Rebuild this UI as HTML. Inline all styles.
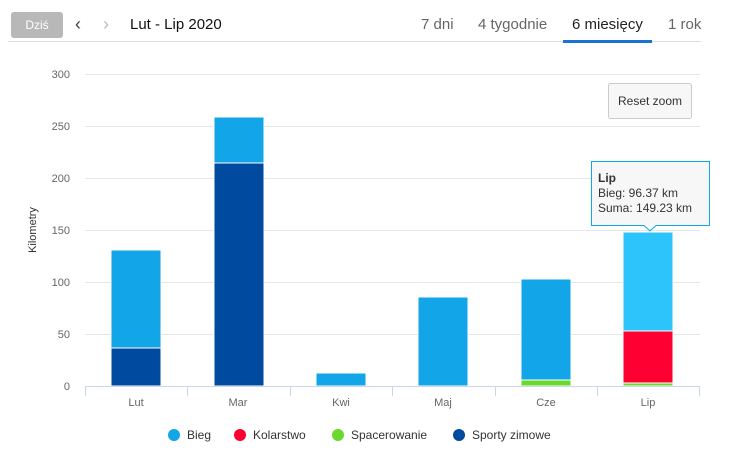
<!DOCTYPE html>
<html><head><meta charset="utf-8"><style>
body{margin:0;width:742px;height:467px;background:#fff;font-family:"Liberation Sans",sans-serif;overflow:hidden;position:relative}
.t{position:absolute;white-space:nowrap}
</style></head><body>
<div class="t" style="left:11px;top:12px;width:52px;height:26px;background:#b8b8b8;border-radius:3px;color:#fff;font-size:12px;line-height:26px;text-align:center">Dziś</div>
<div class="t" style="left:75px;top:14px;font-size:18px;color:#444">‹</div>
<div class="t" style="left:103px;top:14px;font-size:18px;color:#bbb">›</div>
<div class="t" style="left:130px;top:16px;font-size:15px;color:#111">Lut - Lip 2020</div>
<div class="t" style="left:421px;top:16px;font-size:15px;color:#666">7 dni</div>
<div class="t" style="left:478px;top:16px;font-size:15px;color:#666">4 tygodnie</div>
<div class="t" style="left:572px;top:16px;font-size:15px;color:#222">6 miesięcy</div>
<div class="t" style="left:668px;top:16px;font-size:15px;color:#666">1 rok</div>
<div class="t" style="left:8px;top:41px;width:693px;height:1px;background:#ddd"></div>
<div class="t" style="left:563px;top:40px;width:89px;height:3px;background:#1a73d0"></div>
<svg width="742" height="467" style="position:absolute;left:0;top:0">
<g stroke="#e6e6e6">
<line x1="85" x2="700" y1="74.5" y2="74.5"/><line x1="85" x2="700" y1="126.5" y2="126.5"/><line x1="85" x2="700" y1="178.5" y2="178.5"/><line x1="85" x2="700" y1="230.5" y2="230.5"/><line x1="85" x2="700" y1="282.5" y2="282.5"/><line x1="85" x2="700" y1="334.5" y2="334.5"/>
</g>
<g font-size="11" fill="#666" text-anchor="end">
<text x="70" y="78">300</text><text x="70" y="130">250</text><text x="70" y="182">200</text><text x="70" y="234">150</text><text x="70" y="286">100</text><text x="70" y="338">50</text><text x="70" y="390">0</text>
</g>
<text transform="translate(36,230) rotate(-90)" font-size="11" fill="#333" text-anchor="middle">Kilometry</text>
<g stroke="#fff" stroke-width="1">
<rect x="111" y="250" width="50" height="98" fill="#12a6e8"/>
<rect x="111" y="348" width="50" height="38" fill="#004a9f"/>
<rect x="214" y="117" width="50" height="46" fill="#12a6e8"/>
<rect x="214" y="163" width="50" height="223" fill="#004a9f"/>
<rect x="316" y="373" width="50" height="13" fill="#12a6e8"/>
<rect x="418" y="297" width="50" height="89" fill="#12a6e8"/>
<rect x="521" y="279" width="50" height="101" fill="#12a6e8"/>
<rect x="521" y="380" width="50" height="6" fill="#6ad82e"/>
<rect x="623" y="232" width="50" height="99" fill="#2dc3fb"/>
<rect x="623" y="331" width="50" height="52" fill="#ff0033"/>
<rect x="623" y="383" width="50" height="3" fill="#6ad82e"/>
</g>
<line x1="85" x2="700" y1="386.5" y2="386.5" stroke="#ccd6eb"/>
<g stroke="#ccd6eb"><line x1="85.5" x2="85.5" y1="386" y2="396"/><line x1="187.5" x2="187.5" y1="386" y2="396"/><line x1="290.5" x2="290.5" y1="386" y2="396"/><line x1="392.5" x2="392.5" y1="386" y2="396"/><line x1="495.5" x2="495.5" y1="386" y2="396"/><line x1="597.5" x2="597.5" y1="386" y2="396"/><line x1="699.5" x2="699.5" y1="386" y2="396"/></g>
<g font-size="11" fill="#666" text-anchor="middle">
<text x="136" y="406">Lut</text><text x="238" y="406">Mar</text><text x="341" y="406">Kwi</text><text x="443" y="406">Maj</text><text x="546" y="406">Cze</text><text x="648" y="406">Lip</text>
</g>
<rect x="608.5" y="83.5" width="83" height="35" rx="2" fill="#f7f7f7" stroke="#ccc"/>
<text x="650" y="105" font-size="12" fill="#333" text-anchor="middle">Reset zoom</text>
<path d="M591.5 161.5 H709.5 V225.5 H656 L650 231 L644 225.5 H591.5 Z" fill="#f7f7f7" fill-opacity="0.95" stroke="#12a6e8"/>
<text x="598" y="182" font-size="12" font-weight="bold" fill="#333">Lip</text>
<text x="598" y="197" font-size="12" fill="#333">Bieg: 96.37 km</text>
<text x="598" y="212" font-size="12" fill="#333">Suma: 149.23 km</text>
<g font-size="12" fill="#333">
<circle cx="174" cy="435" r="6" fill="#12a6e8"/><text x="187" y="439">Bieg</text>
<circle cx="240" cy="435" r="6" fill="#ff0033"/><text x="253" y="439">Kolarstwo</text>
<circle cx="338" cy="435" r="6" fill="#6ad82e"/><text x="351" y="439">Spacerowanie</text>
<circle cx="459" cy="435" r="6" fill="#004a9f"/><text x="472" y="439">Sporty zimowe</text>
</g>
</svg>
</body></html>
